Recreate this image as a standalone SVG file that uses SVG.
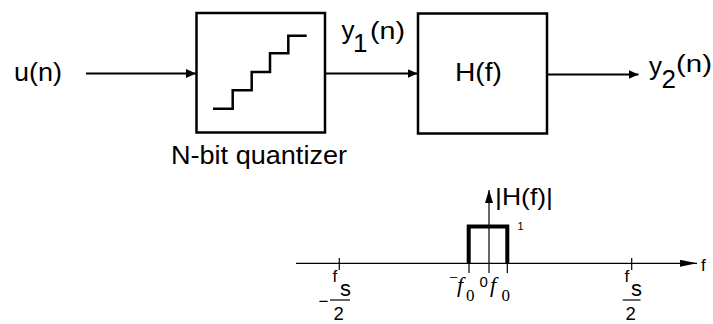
<svg xmlns="http://www.w3.org/2000/svg" width="713" height="324" viewBox="0 0 713 324">
  <style>
    .box { fill: none; stroke: #000; stroke-width: 2.5; }
    .wire { fill: none; stroke: #000; stroke-width: 2; }
    .thin { fill: none; stroke: #000; stroke-width: 1.2; }
    .thick { fill: none; stroke: #000; stroke-width: 4; stroke-linejoin: miter; }
    .lbl { font-family: "Liberation Sans", Arial, Helvetica, sans-serif; fill: #000; }
    .ser { font-family: "Liberation Serif", "Times New Roman", serif; fill: #000; }
  </style>
  <defs>
    <marker id="arr" markerUnits="userSpaceOnUse" markerWidth="10" markerHeight="9" refX="10" refY="4.5" orient="auto">
      <path d="M0,0 L10,4.5 L0,9 z" fill="#000"/>
    </marker>
    <marker id="axarr" markerUnits="userSpaceOnUse" markerWidth="17" markerHeight="7" refX="17" refY="3.5" orient="auto">
      <path d="M0,0 L17,3.5 L0,7 z" fill="#000"/>
    </marker>
    <marker id="varr" markerUnits="userSpaceOnUse" markerWidth="13" markerHeight="8" refX="13" refY="4" orient="auto">
      <path d="M0,0 L13,4 L0,8 z" fill="#000"/>
    </marker>
  </defs>
  <rect width="713" height="324" fill="#fff"/>

  <g id="input-label">
    <text class="lbl" x="14" y="81" font-size="25" textLength="48" lengthAdjust="spacingAndGlyphs">u(n)</text>
  </g>

  <g id="quantizer">
    <rect class="box" x="196.5" y="13" width="128.5" height="119.5"/>
    <path class="box" d="M213,108.7 H232.7 V90.3 H251.7 V72 H270 V53.3 H288.3 V35.7 H306.7"/>
    <text class="lbl" x="171" y="164" font-size="25" textLength="176" lengthAdjust="spacingAndGlyphs">N-bit quantizer</text>
  </g>

  <g id="filter">
    <rect class="box" x="418" y="13.5" width="129" height="120"/>
    <text class="lbl" x="455" y="80.5" font-size="25" textLength="47" lengthAdjust="spacingAndGlyphs">H(f)</text>
  </g>

  <g id="y1-label">
    <text class="lbl" x="341.5" y="39" font-size="26">y</text>
    <text class="lbl" x="353" y="52" font-size="26">1</text>
    <text class="lbl" x="370" y="39" font-size="23" textLength="35" lengthAdjust="spacingAndGlyphs">(n)</text>
  </g>

  <g id="y2-label">
    <text class="lbl" x="649" y="75" font-size="26">y</text>
    <text class="lbl" x="661.5" y="87.5" font-size="26">2</text>
    <text class="lbl" x="676" y="72" font-size="23" textLength="36" lengthAdjust="spacingAndGlyphs">(n)</text>
  </g>

  <g id="connectors">
    <line class="wire" x1="86" y1="73.5" x2="196" y2="73.5" marker-end="url(#arr)"/>
    <line class="wire" x1="325" y1="73.5" x2="417.5" y2="73.5" marker-end="url(#arr)"/>
    <line class="wire" x1="547" y1="74.5" x2="638.5" y2="74.5" marker-end="url(#arr)"/>
  </g>

  <g id="spectrum">
    <line class="thin" x1="296" y1="263.3" x2="697" y2="263.3" marker-end="url(#axarr)"/>
    <line class="thin" x1="489" y1="273" x2="489" y2="190" marker-end="url(#varr)"/>
    <path class="thick" d="M468.7,264 V226.5 H507.3 V264"/>
    <line class="thin" x1="469" y1="263" x2="469" y2="273"/>
    <line class="thin" x1="507.3" y1="263" x2="507.3" y2="273"/>
    <line class="thin" x1="339.3" y1="258" x2="339.3" y2="270"/>
    <line class="thin" x1="631.7" y1="258" x2="631.7" y2="270"/>

    <text class="lbl" x="495" y="205" font-size="24" textLength="58" lengthAdjust="spacingAndGlyphs">|H(f)|</text>
    <text class="lbl" x="517.5" y="230" font-size="11">1</text>
    <text class="lbl" x="701" y="270.5" font-size="17">f</text>

    <text class="lbl" x="332.5" y="282" font-size="17">f</text>
    <text class="lbl" x="340" y="295.5" font-size="22">s</text>
    <line class="thin" x1="330" y1="300" x2="350" y2="300" stroke-width="1.6"/>
    <text class="lbl" x="318.5" y="307" font-size="17">−</text>
    <text class="lbl" x="333.5" y="320" font-size="18.5">2</text>

    <text class="lbl" x="624.5" y="282" font-size="17">f</text>
    <text class="lbl" x="631" y="295.5" font-size="22">s</text>
    <line class="thin" x1="622.7" y1="300" x2="640.5" y2="300" stroke-width="1.6"/>
    <text class="lbl" x="625.5" y="320" font-size="18.5">2</text>

    <text class="ser" x="449" y="283" font-size="16">−</text>
    <text class="ser" x="457" y="292" font-size="22" font-style="italic">f</text>
    <text class="ser" x="466" y="300.5" font-size="17">0</text>
    <text class="lbl" x="479.5" y="287" font-size="15">0</text>
    <text class="ser" x="490" y="292" font-size="22" font-style="italic">f</text>
    <text class="ser" x="501.5" y="300.5" font-size="17">0</text>
  </g>
</svg>
